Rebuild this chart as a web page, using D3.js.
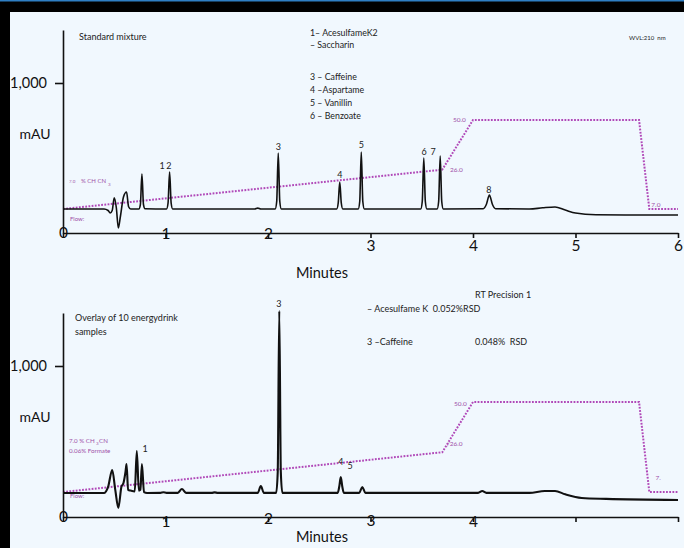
<!DOCTYPE html>
<html><head><meta charset="utf-8">
<script src="https://cdn.jsdelivr.net/npm/d3@7"></script>
<style>html,body{margin:0;padding:0;background:#000;}svg{display:block;}text{white-space:pre;}</style>
</head><body>
<script>
// ---------- data ----------
const timeTicks = [0, 1, 2, 3, 4, 5, 6];
const mauTicks = [1000];
// standard mixture trace [minutes, mAU]
const stdTime = [0,0.40,0.44,0.46,0.48,0.50,0.52,0.54,0.56,0.59,0.62,0.64,0.66,0.74,0.755,0.77,0.785,0.80,1.01,1.025,1.04,1.055,1.07,1.87,1.9,1.93,2.07,2.085,2.10,2.115,2.13,2.67,2.685,2.70,2.715,2.73,2.88,2.895,2.91,2.925,2.94,3.49,3.505,3.52,3.535,3.55,3.65,3.665,3.68,3.695,3.71,4.10,4.13,4.16,4.19,4.22,4.55,4.68,4.8,4.9,5.0,5.2,5.6,6.0];
const stdMau  = [160,160,150,133,150,235,170,33,110,240,273,175,160,160,190,393,190,162,160,200,407,200,160,160,166,160,160,210,533,210,160,160,200,340,200,160,160,210,540,210,160,160,210,500,210,160,160,210,513,210,160,162,190,253,190,162,160,168,173,153,133,122,120,120];
// overlay of 10 energy drink samples
const smpTime = [0,0.40,0.44,0.48,0.51,0.54,0.57,0.59,0.61,0.62,0.635,0.66,0.70,0.72,0.74,0.755,0.77,0.79,0.82,0.95,0.98,1.01,1.12,1.16,1.20,1.45,1.48,1.51,1.90,1.93,1.96,2.08,2.095,2.11,2.125,2.14,2.68,2.695,2.71,2.725,2.74,2.89,2.92,2.95,4.05,4.09,4.13,4.55,4.7,4.8,4.9,5.06,5.3,6.0];
const smpMau  = [159,159,200,311,180,60,200,225,300,351,180,175,170,437,175,180,351,165,159,160,164,160,160,185,160,160,163,160,160,205,160,160,300,1364,300,160,160,200,265,200,160,160,199,160,160,172,160,160,172,172,150,126,120,113];
// solvent gradient (% CH3CN)
const gradTime = [0, 3.7, 4.0, 5.62, 5.72, 6.0];
const gradPct  = [7, 26, 50, 50, 7, 7];
// peak labels
const stdPeakText = ["1","2","3","4","5","6","7","8"];
const stdPeakTime = [0.966,1.034,2.10,2.70,2.91,3.522,3.61,4.156];
const stdPeakMau  = [447,447,573,387,587,540,540,287];
const smpPeakText = ["3","1","4","5"];
const smpPeakTime = [2.107,0.80,2.712,2.80];
const smpPeakMau  = [1411,450,364,338];
// gradient labels
const stdGradText = ["50.0","26.0","7.0"];
const stdGradTime = [3.93,3.776,5.74];
const stdGradPct  = [50,26,9];
const smpGradText = ["50.0","/26.0","7."];
const smpGradTime = [3.94,3.745,5.78];
const smpGradPct  = [49,30,13.8];

// ---------- drawing ----------
const W = 684, H = 548;
const FONT = "Lato, 'Open Sans', sans-serif";
const PURPLE = "#b048b8";
const svg = d3.select("body").append("svg").attr("width", W).attr("height", H);
svg.append("rect").attr("width", W).attr("height", H).attr("fill", "#000");
svg.append("rect").attr("width", W).attr("height", 1.5).attr("fill", "#2f7fc4");
svg.append("rect").attr("x", 10).attr("y", 12).attr("width", W - 10).attr("height", H - 12).attr("fill", "#f1f8fe");

const x = d3.scaleLinear().domain([0, 6]).range([63, 678]);

function panel(cfg) {
  const g = svg.append("g");
  const y = d3.scaleLinear().domain([0, 1000]).range([cfg.y0, cfg.y1000]);
  const yAxisScale = y.copy().domain([0, y.invert(cfg.yTop)]).range([cfg.y0, cfg.yTop]);
  const gScale = d3.scaleLinear().domain([7, 50]).range([cfg.g7, cfg.g50]);

  // gradient line
  const gradPts = gradTime.map((t, i) => [t, gradPct[i]]);
  g.append("path").datum(gradPts)
    .attr("d", d3.line().x(d => x(d[0])).y(d => gScale(d[1])))
    .attr("fill", "none").attr("stroke", PURPLE).attr("stroke-width", 2)
    .attr("stroke-dasharray", "1.8,1.4");

  // trace
  const pts = cfg.time.map((t, i) => [t, cfg.mau[i]]);
  g.append("path").datum(pts)
    .attr("d", d3.line().x(d => x(d[0])).y(d => y(d[1])).curve(d3.curveMonotoneX))
    .attr("fill", "none").attr("stroke", "#111").attr("stroke-width", cfg.lw)
    .attr("stroke-linejoin", "round");

  // y axis
  const ya = g.append("g").attr("transform", `translate(${x(0)},0)`)
    .call(d3.axisLeft(yAxisScale).tickValues(mauTicks).tickFormat(d3.format(","))
      .tickSize(8).tickSizeOuter(0).tickPadding(8));
  ya.select(".domain").attr("stroke", "#111").attr("stroke-width", 1.6);
  ya.selectAll(".tick line").attr("stroke", "#111").attr("stroke-width", 1.6);
  ya.selectAll(".tick text").attr("font-family", FONT).attr("font-size", 14.5).attr("fill", "#111");

  // x axis
  const xa = g.append("g").attr("transform", `translate(0,${cfg.y0})`)
    .call(d3.axisBottom(x).tickValues(timeTicks)
      .tickFormat(d => cfg.labelOff[d] === undefined ? "" : d)
      .tickSize(5).tickSizeOuter(0));
  xa.select(".domain").attr("stroke", "#111").attr("stroke-width", 1.6);
  xa.selectAll(".tick line").attr("stroke", "#111").attr("stroke-width", 1.6);
  xa.selectAll(".tick text").attr("font-family", FONT).attr("font-size", 15.5).attr("fill", "#111")
    .attr("y", d => cfg.labelOff[d] || 0).attr("dy", "0.35em");

  // axis titles
  g.append("text").attr("x", 35).attr("y", cfg.mauY).attr("text-anchor", "middle")
    .attr("font-family", FONT).attr("font-size", 14).attr("fill", "#111").text("mAU");
  g.append("text").attr("x", 322).attr("y", cfg.minY).attr("text-anchor", "middle")
    .attr("font-family", FONT).attr("font-size", 14.5).attr("fill", "#111").text("Minutes");

  // peak labels
  g.selectAll(".pk").data(cfg.pkText).enter().append("text")
    .attr("x", (d, i) => x(cfg.pkTime[i])).attr("y", (d, i) => y(cfg.pkMau[i]))
    .attr("dy", "0.35em").attr("text-anchor", "middle")
    .attr("font-family", FONT).attr("font-size", 9).attr("fill", "#222").text(d => d);

  // gradient labels
  g.selectAll(".gl").data(cfg.glText).enter().append("text")
    .attr("x", (d, i) => x(cfg.glTime[i])).attr("y", (d, i) => gScale(cfg.glPct[i]))
    .attr("dy", "0.35em").attr("text-anchor", (d, i) => i === 0 ? "end" : "start")
    .attr("font-family", FONT).attr("font-size", 6.5).attr("fill", "#a050a8").text(d => d);
  return g;
}

const topPanel = panel({
  y0: 233, y1000: 83, yTop: 30, g7: 209, g50: 120, lw: 1.6,
  time: stdTime, mau: stdMau,
  labelOff: {0: 0, 1: 1, 2: 1, 3: 13, 4: 13, 5: 13, 6: 13},
  mauY: 139, minY: 278,
  pkText: stdPeakText, pkTime: stdPeakTime, pkMau: stdPeakMau,
  glText: stdGradText, glTime: stdGradTime, glPct: stdGradPct
});
const botPanel = panel({
  y0: 517, y1000: 366, yTop: 313, g7: 492, g50: 402, lw: 2.1,
  time: smpTime, mau: smpMau,
  labelOff: {0: 0, 1: 5, 2: 2, 3: 4, 4: 5},
  mauY: 422, minY: 542,
  pkText: smpPeakText, pkTime: smpPeakTime, pkMau: smpPeakMau,
  glText: smpGradText, glTime: smpGradTime, glPct: smpGradPct
});

function txt(xp, yp, s, size, color, anchor) {
  return svg.append("text").attr("x", xp).attr("y", yp).attr("dy", "0.35em")
    .attr("text-anchor", anchor || "start")
    .attr("font-family", FONT).attr("font-size", size).attr("fill", color || "#222").text(s);
}
// top annotations
txt(79, 37, "Standard mixture", 9);
txt(310, 33, "1– AcesulfameK2", 8.8);
txt(310, 45, "– Saccharin", 8.8);
txt(310, 77, "3 – Caffeine", 8.8);
txt(310, 90, "4 –Aspartame", 8.8);
txt(310, 103, "5 – Vanillin", 8.8);
txt(310, 116, "6 – Benzoate", 8.8);
txt(629, 38, "WVL:210  nm", 6);
txt(69, 181, "7.0", 4.5, "#a050a8");
txt(81, 181, "% CH CN", 6, "#a050a8");
txt(108, 184, "3", 4.5, "#a050a8");
txt(70, 219, "Flow:", 6, "#a050a8");
// bottom annotations
txt(75, 318, "Overlay of 10 energydrink", 9);
txt(75, 332, "samples", 9);
txt(475, 295, "RT Precision 1", 9);
txt(367, 309, "– Acesulfame K  0.052%RSD", 9);
txt(367, 342, "3 –Caffeine", 9);
txt(475, 342, "0.048%  RSD", 9);
txt(69, 441, "7.0 % CH ", 6.2, "#a050a8");
txt(96, 443, "3", 4.5, "#a050a8");
txt(99, 441, "CN", 6.2, "#a050a8");
txt(69, 451, "0.06% Formate", 6.2, "#a050a8");
txt(70, 496, "Flow:", 6, "#a050a8");
</script>
</body></html>
